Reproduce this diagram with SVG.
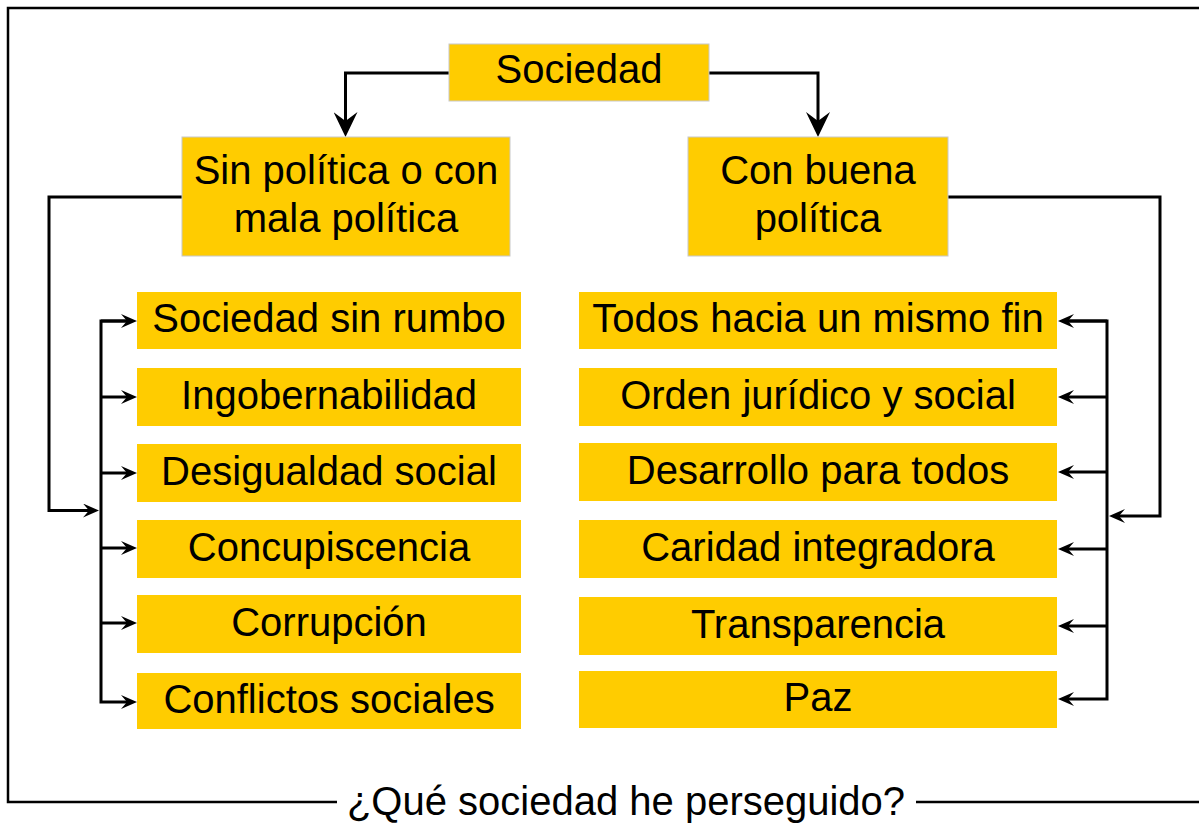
<svg xmlns="http://www.w3.org/2000/svg" width="1199" height="823" viewBox="0 0 1199 823">
<style>
.box{fill:#FFCC00}
.top{fill:#FFCC00;stroke:#C8C8C8;stroke-width:1}
.t{font-family:"Liberation Sans",Arial,sans-serif;font-size:40px;fill:#000;text-anchor:middle}
.ln{fill:none;stroke:#000;stroke-width:3;stroke-linejoin:miter}
.fr{fill:none;stroke:#000;stroke-width:2.5}
</style>
<defs>
<marker id="big" markerUnits="userSpaceOnUse" markerWidth="25" markerHeight="24" refX="9" refY="12" orient="auto" viewBox="0 0 25 24">
<path d="M25,12 L0,0 L9,12 L0,24 Z" fill="#000"/>
</marker>
<marker id="sm" markerUnits="userSpaceOnUse" markerWidth="16" markerHeight="14" refX="6" refY="7" orient="auto" viewBox="0 0 16 14">
<path d="M16,7 L0,0 L6,7 L0,14 Z" fill="#000"/>
</marker>
</defs>
<rect width="1199" height="823" fill="#fff"/>
<g id="frame">
<path class="fr" d="M1205,8 H8 V802 H337"/>
<path class="fr" d="M916,802 H1205"/>
<text class="t" x="626" y="815">¿Qué sociedad he perseguido?</text>
</g>
<g id="connectors">
<path class="ln" d="M449,73 H345.5 V121" marker-end="url(#big)"/>
<path class="ln" d="M709,73 H818 V121" marker-end="url(#big)"/>
<path class="ln" d="M182,197 H49 V510.5 H89" marker-end="url(#sm)"/>
<path class="ln" d="M127,321 H101 V702 H127" marker-end="url(#sm)"/>
<path class="ln" d="M101,321 H127" marker-end="url(#sm)"/>
<path class="ln" d="M101,397 H127" marker-end="url(#sm)"/>
<path class="ln" d="M101,473 H127" marker-end="url(#sm)"/>
<path class="ln" d="M101,548 H127" marker-end="url(#sm)"/>
<path class="ln" d="M101,623 H127" marker-end="url(#sm)"/>
<path class="ln" d="M948,197 H1160 V516 H1119" marker-end="url(#sm)"/>
<path class="ln" d="M1068,321 H1107 V699 H1068" marker-end="url(#sm)"/>
<path class="ln" d="M1107,321 H1068" marker-end="url(#sm)"/>
<path class="ln" d="M1107,397 H1068" marker-end="url(#sm)"/>
<path class="ln" d="M1107,472 H1068" marker-end="url(#sm)"/>
<path class="ln" d="M1107,549 H1068" marker-end="url(#sm)"/>
<path class="ln" d="M1107,626 H1068" marker-end="url(#sm)"/>
</g>
<g id="sociedad"><rect class="top" x="449" y="44" width="260" height="57"/><text class="t" x="579" y="83">Sociedad</text></g>
<g id="sin-politica"><rect class="top" x="182" y="137" width="328" height="119"/><text class="t" x="346" y="184">Sin política o con</text><text class="t" x="346" y="232">mala política</text></g>
<g id="con-buena"><rect class="top" x="688" y="137" width="260" height="119"/><text class="t" x="818" y="184">Con buena</text><text class="t" x="818" y="232">política</text></g>
<g id="l1"><rect class="box" x="137" y="292" width="384" height="57"/><text class="t" x="329" y="332">Sociedad sin rumbo</text></g>
<g id="l2"><rect class="box" x="137" y="368" width="384" height="58"/><text class="t" x="329" y="409">Ingobernabilidad</text></g>
<g id="l3"><rect class="box" x="137" y="444" width="384" height="58"/><text class="t" x="329" y="485">Desigualdad social</text></g>
<g id="l4"><rect class="box" x="137" y="520" width="384" height="58"/><text class="t" x="329" y="561">Concupiscencia</text></g>
<g id="l5"><rect class="box" x="137" y="595" width="384" height="58"/><text class="t" x="329" y="636">Corrupción</text></g>
<g id="l6"><rect class="box" x="137" y="673" width="384" height="56"/><text class="t" x="329" y="713">Conflictos sociales</text></g>
<g id="r1"><rect class="box" x="579" y="292" width="478" height="57"/><text class="t" x="818" y="332">Todos hacia un mismo fin</text></g>
<g id="r2"><rect class="box" x="579" y="368" width="478" height="58"/><text class="t" x="818" y="409">Orden jurídico y social</text></g>
<g id="r3"><rect class="box" x="579" y="443" width="478" height="58"/><text class="t" x="818" y="484">Desarrollo para todos</text></g>
<g id="r4"><rect class="box" x="579" y="520" width="478" height="58"/><text class="t" x="818" y="561">Caridad integradora</text></g>
<g id="r5"><rect class="box" x="579" y="597" width="478" height="58"/><text class="t" x="818" y="638">Transparencia</text></g>
<g id="r6"><rect class="box" x="579" y="671" width="478" height="57"/><text class="t" x="818" y="711">Paz</text></g>
</svg>
